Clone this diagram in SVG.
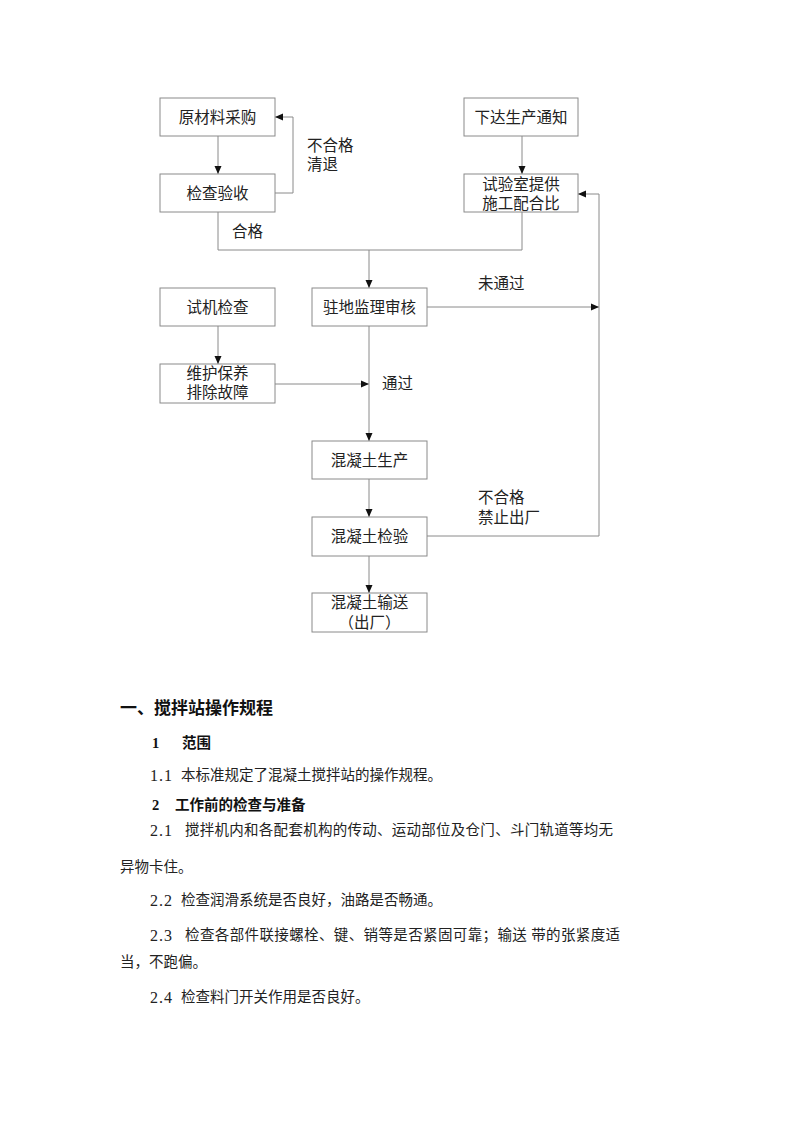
<svg xmlns="http://www.w3.org/2000/svg" width="800" height="1132" viewBox="0 0 800 1132">
<style>
.box{fill:#fff;stroke:#8a8a8a;stroke-width:1}
.bt{font-family:"Liberation Serif","Noto Sans CJK SC",serif;font-size:15.5px;fill:#222;text-anchor:middle;dominant-baseline:central}
.lb{font-family:"Liberation Serif","Noto Sans CJK SC",serif;font-size:15.5px;fill:#222;dominant-baseline:central}
.ln{fill:none;stroke:#8a8a8a;stroke-width:1}
.h1{font-family:"Liberation Sans","Noto Sans CJK SC",sans-serif;font-size:17px;font-weight:bold;fill:#111;dominant-baseline:central}
.h2{font-family:"Liberation Serif","Noto Sans CJK SC",serif;font-size:14.5px;font-weight:bold;fill:#111;dominant-baseline:central}
.tx{font-family:"Liberation Serif","Noto Sans CJK SC",serif;font-size:14.5px;fill:#222;dominant-baseline:central}
.nm{font-family:"Liberation Serif",serif;font-size:16px;fill:#222;dominant-baseline:central}
</style>
<defs>
<marker id="ar" markerUnits="userSpaceOnUse" markerWidth="8" markerHeight="8" refX="8" refY="4" orient="auto">
<path d="M0,0.5 L8,4 L0,7.5 Z" fill="#111"/>
</marker>
</defs>
<rect width="800" height="1132" fill="#fff"/>

<g id="connectors">
<line class="ln" x1="218" y1="136" x2="218" y2="174" marker-end="url(#ar)"/>
<polyline class="ln" points="275,193 293,193 293,117 275,117" marker-end="url(#ar)"/>
<line class="ln" x1="522" y1="136" x2="522" y2="174" marker-end="url(#ar)"/>
<polyline class="ln" points="218,212 218,250 522,250 522,212"/>
<line class="ln" x1="369" y1="250" x2="369" y2="288" marker-end="url(#ar)"/>
<line class="ln" x1="218" y1="326" x2="218" y2="364" marker-end="url(#ar)"/>
<line class="ln" x1="275" y1="384" x2="369" y2="384" marker-end="url(#ar)"/>
<line class="ln" x1="427" y1="307" x2="599" y2="307" marker-end="url(#ar)"/>
<line class="ln" x1="369" y1="326" x2="369" y2="441" marker-end="url(#ar)"/>
<line class="ln" x1="369" y1="479" x2="369" y2="517" marker-end="url(#ar)"/>
<line class="ln" x1="369" y1="556" x2="369" y2="593" marker-end="url(#ar)"/>
<polyline class="ln" points="427,536 599,536 599,194 578,194" marker-end="url(#ar)"/>
<text class="lb" x="307" y="145">不合格</text>
<text class="lb" x="307" y="164">清退</text>
<text class="lb" x="232" y="231">合格</text>
<text class="lb" x="478" y="283">未通过</text>
<text class="lb" x="382" y="383">通过</text>
<text class="lb" x="478" y="497">不合格</text>
<text class="lb" x="478" y="517">禁止出厂</text>
</g>

<g id="n1"><rect class="box" x="160" y="98" width="115" height="38"/><text class="bt" x="217.5" y="117">原材料采购</text></g>
<g id="n2"><rect class="box" x="160" y="174" width="115" height="38"/><text class="bt" x="217.5" y="193">检查验收</text></g>
<g id="n3"><rect class="box" x="464" y="98" width="114" height="38"/><text class="bt" x="521" y="117">下达生产通知</text></g>
<g id="n4"><rect class="box" x="464" y="174" width="114" height="38"/><text class="bt" x="521" y="184.5">试验室提供</text><text class="bt" x="521" y="203">施工配合比</text></g>
<g id="n5"><rect class="box" x="160" y="288" width="115" height="38"/><text class="bt" x="217.5" y="307">试机检查</text></g>
<g id="n6"><rect class="box" x="312" y="288" width="115" height="38"/><text class="bt" x="369.5" y="307">驻地监理审核</text></g>
<g id="n7"><rect class="box" x="160" y="364" width="115" height="39"/><text class="bt" x="217.5" y="373.5">维护保养</text><text class="bt" x="217.5" y="392.5">排除故障</text></g>
<g id="n8"><rect class="box" x="312" y="441" width="115" height="38"/><text class="bt" x="369.5" y="460">混凝土生产</text></g>
<g id="n9"><rect class="box" x="312" y="517" width="115" height="39"/><text class="bt" x="369.5" y="536">混凝土检验</text></g>
<g id="n10"><rect class="box" x="312" y="593" width="115" height="39"/><text class="bt" x="369.5" y="602">混凝土输送</text><text class="bt" x="369.5" y="622">（出厂）</text></g>

<g id="body">
<text class="h1" x="120" y="708">一、搅拌站操作规程</text>
<text class="h2" x="152" y="743">1</text><text class="h2" x="182" y="743">范围</text>
<text class="nm" x="150" y="775" textLength="22">1.1</text><text class="tx" x="181" y="775">本标准规定了混凝土搅拌站的操作规程。</text>
<text class="h2" x="152" y="805">2</text><text class="h2" x="175" y="805">工作前的检查与准备</text>
<text class="nm" x="150" y="830" textLength="22">2.1</text><text class="tx" x="185" y="830" textLength="428">搅拌机内和各配套机构的传动、运动部位及仓门、斗门轨道等均无</text>
<text class="tx" x="120" y="867">异物卡住。</text>
<text class="nm" x="150" y="900" textLength="22">2.2</text><text class="tx" x="181" y="900">检查润滑系统是否良好，油路是否畅通。</text>
<text class="nm" x="150" y="935" textLength="22">2.3</text><text class="tx" x="185" y="935" textLength="435">检查各部件联接螺栓、键、销等是否紧固可靠；输送 带的张紧度适</text>
<text class="tx" x="120" y="962">当，不跑偏。</text>
<text class="nm" x="150" y="997" textLength="22">2.4</text><text class="tx" x="181" y="997">检查料门开关作用是否良好。</text>
</g>
</svg>
